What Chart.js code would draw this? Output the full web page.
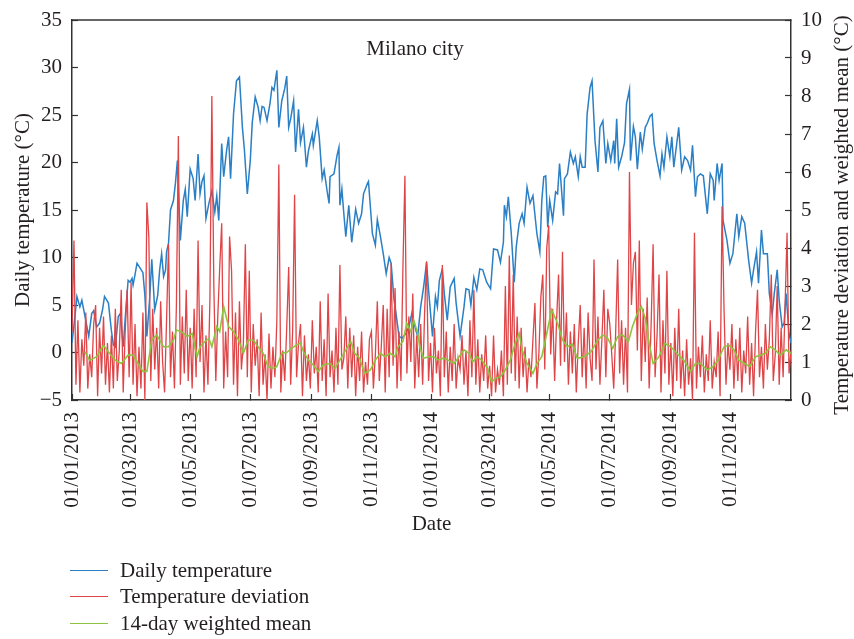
<!DOCTYPE html>
<html>
<head>
<meta charset="utf-8">
<script src="https://cdn.jsdelivr.net/npm/chart.js@4.4.0/dist/chart.umd.min.js"></script>
<style>
  body { margin: 0; background: #fff; }
  #wrap { position: relative; width: 854px; height: 639px; }
  #leyenda { position: absolute; left: 70px; top: 557px; font-family: "Liberation Serif", serif; font-size: 21px; color: #231f20; }
  .item { height: 26.5px; display: flex; align-items: center; }
  .linea { width: 38px; height: 0; border-top: 1.5px solid; margin-right: 12px; }
</style>
</head>
<body>
<div id="wrap">
  <canvas id="grafico" width="854" height="639"></canvas>
  <div id="leyenda"></div>
</div>
<script>
// days counted from 01/01/2013
const tickDays = [0, 59, 120, 181, 243, 304, 365, 424, 485, 546, 608, 669];
const tickLabels = ["01/01/2013", "01/03/2013", "01/05/2013", "01/07/2013", "01/09/2013", "01/11/2013",
  "01/01/2014", "01/03/2014", "01/05/2014", "01/07/2014", "01/09/2014", "01/11/2014"];

const tempDays = [0,3,5,8,10,13,17,20,22,25,28,31,33,37,40,42,44,47,49,52,55,57,59,61,62,64,66,69,72,74,76,79,81,84,87,89,91,93,95,96,98,
  100,103,105,107,110,113,115,117,120,123,125,128,130,132,134,136,139,142,145,147,149,152,154,157,159,161,164,167,170,173,175,178,
  181,183,186,189,191,193,195,198,201,203,205,208,210,213,216,218,220,222,225,227,230,232,235,238,240,244,245,249,251,254,256,259,
  261,262,266,269,271,272,274,276,278,281,284,288,291,294,296,300,301,305,308,310,313,316,319,322,324,327,329,332,335,339,342,345,
  349,351,354,357,360,362,366,369,371,373,376,378,381,384,388,390,394,398,400,403,405,408,411,414,417,421,425,428,432,435,438,439,
  441,443,446,449,451,454,457,459,462,465,468,472,475,477,479,481,483,485,488,491,493,495,499,500,503,506,509,511,514,516,518,521,
  523,526,528,531,534,536,539,542,544,547,550,551,553,555,558,561,563,566,567,570,572,574,577,579,582,584,587,589,591,594,597,599,
  601,604,607,609,611,614,616,619,622,625,628,630,633,635,638,641,645,648,651,652,655,657,660,661,665,668,671,675,677,680,683,687,
  690,692,695,697,700,702,706,708,711,713,716,718,721,723,725,728,730];
const tempValues = [1.0,3.8,5.9,4.8,5.5,3.9,1.7,4.1,4.4,2.7,3.1,4.5,5.9,5.2,2.3,0.8,0.6,3.8,4.1,0.6,5.0,7.6,7.4,7.8,7.1,8.2,9.4,8.9,8.4,6.0,1.7,5.9,9.8,4.5,6.0,8.7,10.4,8.0,8.7,10.6,11.5,
  15.0,16.0,17.8,20.2,11.8,16.0,17.2,14.3,19.3,18.3,16.0,20.9,16.7,18.0,18.6,14.1,15.7,17.0,14.8,16.5,13.9,22.0,18.5,21.3,22.7,18.3,25.1,28.6,29.0,23.7,21.4,16.7,
  20.2,24.2,26.9,25.8,24.4,25.9,25.8,24.4,26.2,27.9,27.6,29.7,23.7,26.5,27.8,29.1,23.7,24.6,26.5,21.1,25.6,22.1,23.7,19.5,21.2,23.0,21.8,24.4,22.7,18.3,19.2,17.0,
  15.7,18.5,18.8,20.7,21.6,15.5,17.2,14.6,12.2,15.5,11.6,15.1,13.6,14.6,16.7,17.8,18.0,12.5,11.3,14.0,12.3,10.4,8.3,10.0,9.4,5.5,4.1,1.7,1.5,2.0,2.7,4.1,
  2.4,1.7,4.8,6.9,9.5,6.6,1.7,5.9,4.8,7.6,8.8,6.2,3.4,6.9,7.8,5.2,1.7,4.8,6.7,6.6,5.0,7.9,6.6,8.8,8.7,7.4,6.7,10.9,10.8,9.5,11.6,15.5,
  14.3,16.4,12.5,7.4,11.1,13.6,14.6,13.6,17.4,15.7,16.5,12.5,10.6,16.0,18.5,18.6,13.2,16.0,13.9,16.9,16.7,19.9,14.4,18.3,18.8,21.1,19.9,20.6,18.5,20.6,19.5,19.5,
  25.1,27.9,28.6,22.3,19.0,23.7,24.4,19.9,22.0,20.2,22.3,19.9,24.6,19.5,20.6,22.1,26.2,27.7,20.2,23.8,22.7,19.3,23.2,21.4,23.7,24.1,24.9,25.1,22.0,20.2,18.6,20.9,
  19.5,22.7,20.6,22.7,19.5,22.0,23.7,19.2,20.6,20.2,19.2,21.8,16.4,18.5,18.8,18.6,14.6,18.8,18.1,16.0,19.9,18.1,19.9,13.9,11.8,9.4,10.4,14.6,12.2,14.3,13.6,9.7,
  7.3,8.7,10.6,7.3,12.9,10.4,10.4,6.2,4.1,6.2,8.7,5.5,2.7,3.1,6.2,2.0,1.0];

// temperature deviation, one value every 2 days
const devStep = 2;
const devValues = [
  1.8,4.2,0.4,2.1,0.2,1.6,0.9,2.3,0.3,1.2, 0.6,2.0,2.5,0.1,1.9,0.7,2.2,0.4,1.5,0.2,
  1.7,0.3,2.4,0.5,1.3,2.9,0.2,1.8,2.9,0.6, 3.1,0.4,2.0,0.1,1.4,0.3,2.3,0.0,5.2,4.3,
  0.5,2.4,0.8,1.9,0.3,2.6,1.0,0.2,2.1,4.1, 0.6,1.8,0.3,2.5,6.95,0.4,2.2,0.7,2.9,0.5,
  1.9,0.3,2.4,0.6,4.2,1.0,2.5,0.2,1.7,0.4, 2.6,8.0,3.0,0.5,2.2,3.5,4.65,0.3,1.8,0.6,
  4.3,3.4,0.4,2.3,0.1,2.6,0.8,1.5,4.1,0.6, 3.4,0.2,2.0,0.9,1.6,0.1,2.3,0.4,1.2,0.0,
  1.75,0.3,1.4,0.6,2.1,6.2,0.2,1.3,0.5,1.9, 3.5,0.4,1.8,5.4,0.6,1.5,2.0,0.1,1.7,0.5,
  1.2,0.3,2.1,0.7,1.4,0.2,2.6,0.5,1.6,0.1, 2.8,0.6,1.3,0.2,1.9,0.4,3.55,0.8,1.1,2.2,
  0.3,1.9,0.6,1.7,0.1,1.4,0.5,1.8,0.2,1.0, 0.4,1.6,1.8,0.3,1.2,2.6,0.5,1.4,2.5,0.2,
  2.4,0.6,3.6,0.9,2.95,0.3,1.8,0.5,3.5,5.9, 0.7,2.2,1.0,2.8,0.3,1.7,0.6,2.0,0.4,2.3,
  3.65,0.5,1.5,0.2,1.9,0.7,1.3,0.1,3.55,0.6, 1.8,0.2,1.4,0.5,2.0,0.3,1.1,0.8,1.7,0.4,
  1.3,0.1,2.1,0.6,2.9,0.4,1.6,0.2,1.2,0.5, 1.7,0.3,0.9,0.1,1.7,0.2,0.8,0.4,1.3,0.1,
  3.0,0.4,3.8,0.7,3.3,0.5,2.2,0.3,1.9,0.6, 1.4,0.2,1.1,0.6,1.6,2.55,0.3,1.2,2.7,3.3,
  0.8,4.0,4.6,1.2,2.4,0.5,2.1,3.3,0.9,3.9, 1.0,2.3,0.4,1.8,0.7,2.0,0.2,1.5,2.5,0.6,
  1.9,0.3,2.3,1.1,0.5,3.7,0.8,2.2,0.4,1.6, 2.9,0.6,2.4,2.0,1.2,0.3,1.8,3.7,0.7,2.1,
  0.4,1.9,0.2,6.0,2.5,3.6,3.9,1.3,4.2,0.5, 2.4,1.0,2.7,0.3,2.0,4.1,0.6,1.7,3.3,0.2,
  2.1,0.7,3.4,0.4,1.5,0.1,1.9,0.5,2.4,0.3, 1.3,0.1,1.6,0.4,1.1,0.0,4.4,0.3,1.4,0.6,
  1.7,0.2,1.2,0.5,2.1,0.3,1.0,0.6,1.8,0.1, 5.1,2.4,0.4,1.5,0.8,2.0,0.3,1.6,0.5,1.9,
  0.2,1.3,0.7,2.2,0.4,1.5,0.1,1.8,2.9,0.6, 1.4,0.3,2.0,0.8,1.6,3.3,0.5,1.2,3.0,0.4,
  1.9,0.6,2.5,4.4,0.7,1.3];

const meanDays = [13,18,25,32,38,44,50,57,62,67,72,76,81,86,93,98,103,106,111,117,122,127,130,135,139,142,147,150,154,159,164,169,174,179,
  184,189,194,199,204,208,213,218,223,228,232,235,240,245,250,255,262,267,274,279,283,287,292,297,303,308,313,318,323,328,331,336,340,344,
  347,351,353,357,362,367,372,377,382,388,393,398,403,407,411,416,422,426,430,435,440,445,450,454,457,462,468,472,477,482,487,493,498,503,
  508,513,520,527,534,539,544,549,554,559,565,569,574,578,582,586,590,596,602,608,614,621,628,633,638,645,651,656,662,667,672,677,683,688,
  694,699,704,709,714,719,725,730];
const meanValues = [1.27,1.04,1.14,1.44,1.23,1.05,0.96,1.18,1.18,0.96,0.75,0.75,1.58,1.71,1.40,1.40,1.58,1.84,1.80,1.67,1.75,1.14,1.40,1.54,1.62,1.40,1.93,1.80,2.46,1.93,1.80,1.58,1.23,1.58,
  1.58,1.40,1.23,0.88,0.83,0.88,1.23,1.25,1.36,1.45,1.50,1.27,1.05,0.92,0.75,0.92,0.96,0.83,1.14,1.36,1.54,1.23,1.10,0.70,0.79,1.05,1.23,1.14,1.23,1.14,1.40,1.54,2.02,1.80,
  2.10,1.75,1.40,1.10,1.14,1.14,1.05,1.10,1.05,0.96,1.14,1.32,1.23,1.00,1.14,1.05,0.83,0.48,0.57,0.61,0.79,1.05,1.49,1.75,1.32,0.96,0.70,0.96,1.14,1.75,2.37,2.02,1.58,1.40,
  1.47,1.10,1.14,1.27,1.58,1.71,1.62,1.36,1.67,1.71,1.54,1.93,2.28,2.46,2.15,1.49,0.96,1.14,1.49,1.40,1.23,1.05,0.75,0.96,0.96,0.79,0.88,1.05,1.40,1.44,1.32,1.05,0.96,0.88,
  1.14,1.18,1.23,1.40,1.32,1.18,1.32,1.23];

const series = ["Daily temperature", "Temperature deviation", "14-day weighted mean"];
const colores = ["#2a7fc5", "#df4447", "#8cc43f"];
const tituloGrafico = "Milano city";
const tituloIzq = "Daily temperature (°C)";
const tituloDer = "Temperature deviation and weighted mean (°C)";
const tituloX = "Date";

Chart.defaults.font.family = '"Liberation Serif", "Times New Roman", serif';
Chart.defaults.font.size = 21;
Chart.defaults.color = "#231f20";

// title inside the plot, top frame line and right axis title (reads bottom to top)
const textos = {
  id: "textos",
  afterDraw(chart) {
    const { ctx, chartArea } = chart;
    ctx.save();
    ctx.strokeStyle = "#333";
    ctx.lineWidth = 1.5;
    ctx.beginPath();
    ctx.moveTo(chartArea.left, chartArea.top);
    ctx.lineTo(chartArea.right, chartArea.top);
    ctx.stroke();
    ctx.fillStyle = "#231f20";
    ctx.font = '21px "Liberation Serif", serif';
    ctx.textAlign = "center";
    ctx.textBaseline = "middle";
    ctx.fillText(tituloGrafico, 415, 49);
    ctx.translate(842, 215);
    ctx.rotate(-Math.PI / 2);
    ctx.fillText(tituloDer, 0, 0);
    ctx.restore();
  },
};

// fixed axis sizes so the plot box sits where the original has it
const anchoFijo = (w) => (scale) => {
  scale.width = w;
  scale.paddingTop = 0;
  scale.paddingBottom = 0;
};

const ctx = document.getElementById("grafico").getContext("2d");
new Chart(ctx, {
  type: "line",
  data: {
    datasets: [
      {
        label: series[0],
        data: tempDays.map((d, i) => ({ x: d, y: tempValues[i] })),
        borderColor: colores[0],
        borderWidth: 1.5,
        yAxisID: "y",
        order: 3,
      },
      {
        label: series[1],
        data: devValues.map((v, i) => ({ x: i * devStep, y: v })),
        borderColor: colores[1],
        borderWidth: 1.3,
        yAxisID: "y2",
        order: 2,
      },
      {
        label: series[2],
        data: meanDays.map((d, i) => ({ x: d, y: meanValues[i] })),
        borderColor: colores[2],
        borderWidth: 1.6,
        yAxisID: "y2",
        order: 1,
      },
    ],
  },
  options: {
    responsive: false,
    animation: false,
    devicePixelRatio: 1,
    elements: { point: { radius: 0 }, line: { tension: 0 } },
    layout: { padding: { left: 0, right: 0, top: 20, bottom: 99 } },
    plugins: { legend: { display: false }, tooltip: { enabled: false } },
    scales: {
      x: {
        type: "linear",
        min: 0,
        max: 730,
        afterBuildTicks: (scale) => {
          scale.ticks = tickDays.map((v) => ({ value: v }));
        },
        afterFit: (scale) => {
          scale.height = 140;
          scale.paddingLeft = 0;
          scale.paddingRight = 0;
        },
        ticks: {
          autoSkip: false,
          minRotation: 90,
          maxRotation: 90,
          padding: 18,
          callback: (value) => {
            const i = tickDays.indexOf(value);
            return i >= 0 ? tickLabels[i] : "";
          },
        },
        grid: { drawOnChartArea: false, tickLength: -6, color: "#333", tickWidth: 1.2 },
        border: { color: "#333", width: 1.5 },
        title: { display: true, text: tituloX, padding: { top: 0, bottom: 3 } },
      },
      y: {
        position: "left",
        min: -5,
        max: 35,
        afterFit: anchoFijo(72),
        ticks: {
          stepSize: 5,
          padding: 16,
          callback: (v) => (v < 0 ? "\u2212" + Math.abs(v) : v),
        },
        grid: { drawOnChartArea: false, tickLength: -6, color: "#333", tickWidth: 1.2 },
        border: { color: "#333", width: 1.5 },
        title: { display: true, text: tituloIzq, padding: { top: 11, bottom: 0 } },
      },
      y2: {
        position: "right",
        min: 0,
        max: 10,
        afterFit: anchoFijo(63),
        ticks: { stepSize: 1, padding: 16 },
        grid: { drawOnChartArea: false, tickLength: -6, color: "#333", tickWidth: 1.2 },
        border: { color: "#333", width: 1.5 },
      },
    },
  },
  plugins: [textos],
});

// legend below the chart
const leyenda = document.getElementById("leyenda");
series.forEach((nombre, i) => {
  const item = document.createElement("div");
  item.className = "item";
  item.innerHTML = '<span class="linea" style="border-color:' + colores[i] + '"></span>' + nombre;
  leyenda.appendChild(item);
});
</script>
</body>
</html>
